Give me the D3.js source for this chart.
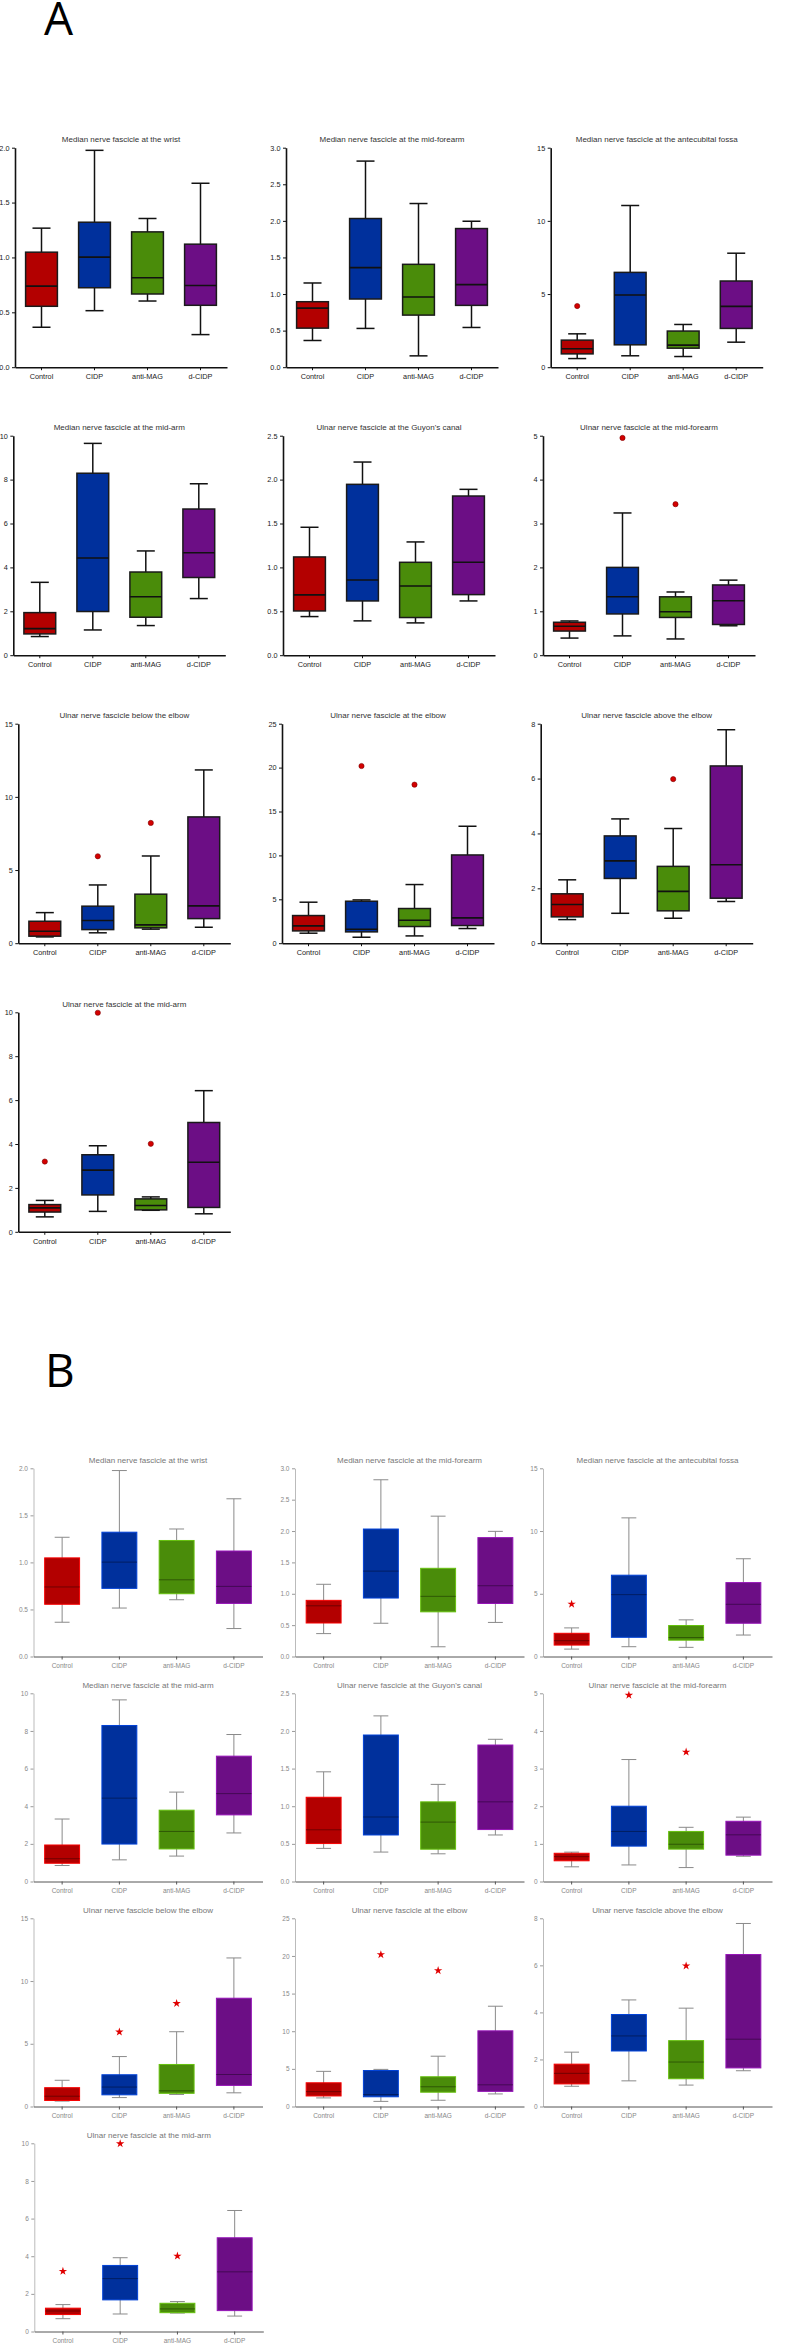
<!DOCTYPE html>
<html><head><meta charset="utf-8">
<script src="https://cdn.jsdelivr.net/npm/d3@7"></script>
<style>body{margin:0;background:#fff} svg{display:block}</style>
</head><body>
<svg id="c" width="790" height="2352"></svg>
<script>
// ---------------- DATA ----------------
const groups = ["Control", "CIDP", "anti-MAG", "d-CIDP"];
const titles = [
  "Median nerve fascicle at the wrist",
  "Median nerve fascicle at the mid-forearm",
  "Median nerve fascicle at the antecubital fossa",
  "Median nerve fascicle at the mid-arm",
  "Ulnar nerve fascicle at the Guyon's canal",
  "Ulnar nerve fascicle at the mid-forearm",
  "Ulnar nerve fascicle below the elbow",
  "Ulnar nerve fascicle at the elbow",
  "Ulnar nerve fascicle above the elbow",
  "Ulnar nerve fascicle at the mid-arm"
];
const yMax  = [2, 3, 15, 10, 2.5, 5, 15, 25, 8, 10];
const yStep = [0.5, 0.5, 5, 2, 0.5, 1, 5, 5, 2, 2];
// each group: [min, Q1, median, Q3, max]
const medianWrist = [[0.364,0.555,0.739,1.048,1.267],[0.515,0.724,1.003,1.321,1.976],[0.603,0.667,0.815,1.233,1.355],[0.297,0.564,0.745,1.121,1.676]];
const medianMidForearm = [[0.365,0.534,0.808,0.895,1.151],[0.530,0.932,1.361,2.032,2.817],[0.155,0.712,0.959,1.406,2.237],[0.543,0.845,1.128,1.895,1.995]];
const medianAntecubital = [[0.59,0.91,1.26,1.85,2.28],[0.78,1.53,4.93,6.48,11.05],[0.73,1.30,1.51,2.47,2.92],[1.71,2.65,4.16,5.89,7.79]];
const medianMidArm = [[0.85,0.97,1.21,1.94,3.32],[1.15,1.99,4.43,8.29,9.65],[1.35,1.73,2.66,3.79,4.75],[2.58,3.54,4.67,6.66,7.81]];
const ulnarGuyon = [[0.440,0.504,0.687,1.119,1.457],[0.391,0.618,0.857,1.946,2.200],[0.368,0.429,0.789,1.058,1.290],[0.618,0.690,1.058,1.813,1.889]];
const ulnarMidForearm = [[0.39,0.55,0.66,0.75,0.78],[0.44,0.94,1.33,2.00,3.24],[0.37,0.86,0.99,1.33,1.44],[0.67,0.70,1.24,1.60,1.71]];
const ulnarBelowElbow = [[0.43,0.48,0.82,1.50,2.09],[0.71,0.93,1.55,2.53,3.98],[0.96,1.05,1.25,3.35,5.96],[1.09,1.68,2.55,8.63,11.84]];
const ulnarElbow = [[1.14,1.40,1.97,3.15,4.67],[0.68,1.29,1.59,4.78,4.93],[0.83,1.90,2.62,3.95,6.68],[1.67,2.01,2.88,10.05,13.32]];
const ulnarAboveElbow = [[0.86,0.96,1.41,1.80,2.31],[1.09,2.36,3.00,3.91,4.53],[0.91,1.18,1.89,2.80,4.18],[1.52,1.64,2.86,6.46,7.78]];
const ulnarMidArm = [[0.68,0.90,1.09,1.24,1.43],[0.93,1.68,2.81,3.51,3.92],[0.98,1.00,1.20,1.50,1.59],[0.82,1.11,3.17,4.98,6.43]];
const boxData = [medianWrist, medianMidForearm, medianAntecubital, medianMidArm, ulnarGuyon,
                 ulnarMidForearm, ulnarBelowElbow, ulnarElbow, ulnarAboveElbow, ulnarMidArm];
// [chart index, group index, value]
const outliers = [[2,0,4.18],[5,1,4.95],[5,2,3.44],[6,1,5.94],[6,2,8.22],[7,1,20.18],[7,2,18.06],[8,2,5.98],[9,0,3.20],[9,1,9.98],[9,2,4.01]];

// ---------------- LAYOUT / STYLE ----------------
const colors = ["#b30000", "#00309c", "#4a8c0a", "#6c0e85"];
const layoutA = {
  xs: [[15,286,550.7],[13.3,283,543],[18.3,282,540.7],[18.3]],
  tops: [147.7, 435.7, 723.7, 1012.3], h: 219.5, len: 212
};
const layoutB = {
  xs: [[33.5,295,543],[33.5,295,543],[33.5,295,543],[34.3]],
  tops: [1468.3, 1693.3, 1918.3, 2143.3], h: 188.2, len: 229
};
const styleA = {
  axisColor:"#111", axisW:1.6, yAxisColor:"#111", tick:3, textColor:"#222", tickFont:7.3, titleFont:8, titleColor:"#333",
  boxW:0.6, capW:0.34, boxStroke:"#1a1a1a", boxStrokeW:1.5, medColor:"#111", medW:1.6, whisk:"#111", whiskW:1.5, outlier:"circle"
};
const styleB = {
  axisColor:"#555", axisW:1, yAxisColor:"#bbb", tick:3, textColor:"#888", tickFont:6.5, titleFont:8, titleColor:"#777",
  boxW:0.61, capW:0.26, boxStroke:"light", boxStrokeW:1, medColor:"dark", medW:1, whisk:"#8a8a8a", whiskW:1, outlier:"star"
};

const svg = d3.select("#c");
const FONT = "'Liberation Sans', Arial, sans-serif";

function drawChart(i, x0, top, bottom, len, st) {
  const g = svg.append("g");
  const y = d3.scaleLinear().domain([0, yMax[i]]).range([bottom, top]);
  const x = d3.scaleBand().domain(groups).range([x0, x0 + len]).padding(0);
  const ticks = d3.range(0, yMax[i] + yStep[i] / 2, yStep[i]);
  const fmt = yStep[i] < 1 ? d3.format(".1f") : d3.format("d");

  const ya = g.append("g").attr("transform", `translate(${x0},0)`)
    .call(d3.axisLeft(y).tickValues(ticks).tickFormat(fmt).tickSize(st.tick).tickSizeOuter(0).tickPadding(2.5));
  ya.select(".domain").attr("stroke", st.yAxisColor).attr("stroke-width", st.axisW);
  ya.selectAll(".tick line").attr("stroke", st.yAxisColor === "#bbb" ? "#999" : st.axisColor).attr("stroke-width", 1);
  ya.selectAll("text").attr("font-family", FONT).attr("font-size", st.tickFont).attr("fill", st.textColor);

  const xa = g.append("g").attr("transform", `translate(0,${bottom})`)
    .call(d3.axisBottom(x).tickSize(st.tick).tickSizeOuter(0).tickPadding(4));
  xa.select(".domain").attr("stroke", st.axisColor).attr("stroke-width", st.axisW);
  xa.selectAll(".tick line").attr("stroke", st.axisColor).attr("stroke-width", 1);
  xa.selectAll("text").attr("font-family", FONT).attr("font-size", st.tickFont).attr("fill", st.textColor);

  g.append("text").attr("x", x0 + len / 2).attr("y", top - 5.5).attr("text-anchor", "middle")
    .attr("font-family", FONT).attr("font-size", st.titleFont).attr("fill", st.titleColor).text(titles[i]);

  const bw = x.bandwidth();
  const boxes = g.selectAll(".box").data(boxData[i]).join("g").attr("class", "box");
  boxes.each(function(d, gi) {
    const b = d3.select(this);
    const cx = x(groups[gi]) + bw / 2;
    const w = bw * st.boxW, cw = bw * st.capW;
    b.append("line").attr("x1", cx).attr("x2", cx).attr("y1", y(d[0])).attr("y2", y(d[4]))
      .attr("stroke", st.whisk).attr("stroke-width", st.whiskW);
    [d[0], d[4]].forEach(v => b.append("line").attr("x1", cx - cw / 2).attr("x2", cx + cw / 2)
      .attr("y1", y(v)).attr("y2", y(v)).attr("stroke", st.whisk).attr("stroke-width", st.whiskW));
    const c = colors[gi];
    const stroke = st.boxStroke === "light" ? d3.color(c).brighter(0.9).formatHex() : st.boxStroke;
    b.append("rect").attr("x", cx - w / 2).attr("width", w).attr("y", y(d[3])).attr("height", y(d[1]) - y(d[3]))
      .attr("fill", c).attr("stroke", stroke).attr("stroke-width", st.boxStrokeW);
    const mc = st.medColor === "dark" ? d3.color(c).darker(1.3).formatHex() : st.medColor;
    b.append("line").attr("x1", cx - w / 2).attr("x2", cx + w / 2).attr("y1", y(d[2])).attr("y2", y(d[2]))
      .attr("stroke", mc).attr("stroke-width", st.medW);
  });

  outliers.filter(o => o[0] === i).forEach(o => {
    const cx = x(groups[o[1]]) + bw / 2;
    if (st.outlier === "circle") {
      g.append("circle").attr("cx", cx).attr("cy", y(o[2])).attr("r", 2.6)
        .attr("fill", "#d40000").attr("stroke", "#7a0000").attr("stroke-width", 0.6);
    } else {
      g.append("path").attr("d", d3.symbol(d3.symbolStar).size(22)())
        .attr("transform", `translate(${cx},${y(o[2])})`).attr("fill", "#e00000");
    }
  });
}

function drawPanel(layout, st) {
  let idx = 0;
  layout.xs.forEach((row, r) => {
    row.forEach(x0 => {
      const top = layout.tops[r];
      drawChart(idx, x0, top, top + layout.h, layout.len, st);
      idx++;
    });
  });
}

svg.append("text").attr("x", 44).attr("y", 35).attr("font-family", "'Open Sans', sans-serif")
  .attr("font-size", 46).attr("fill", "#000").text("A");
svg.append("text").attr("x", 45).attr("y", 1387).attr("font-family", "'Open Sans', sans-serif")
  .attr("font-size", 46).attr("fill", "#000").text("B");

drawPanel(layoutA, styleA);
drawPanel(layoutB, styleB);
</script>
</body></html>
